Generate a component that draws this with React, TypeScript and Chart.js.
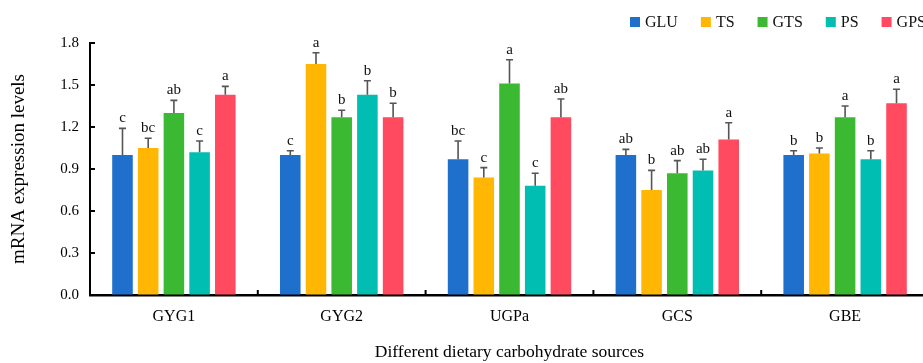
import React, { useEffect, useRef } from "react";
import { Chart, registerables } from "chart.js";

Chart.register(...registerables);

const categories = ["GYG1", "GYG2", "UGPa", "GCS", "GBE"];
const seriesNames = ["GLU", "TS", "GTS", "PS", "GPS"];
const seriesColors = ["#1f6fcd", "#ffb703", "#3cb933", "#00bfb2", "#ff4a5f"];

const gluValues = [1.0, 1.0, 0.97, 1.0, 1.0];
const tsValues = [1.05, 1.65, 0.84, 0.75, 1.01];
const gtsValues = [1.3, 1.27, 1.51, 0.87, 1.27];
const psValues = [1.02, 1.43, 0.78, 0.89, 0.97];
const gpsValues = [1.43, 1.27, 1.27, 1.11, 1.37];

const gluErrors = [0.19, 0.03, 0.13, 0.04, 0.03];
const tsErrors = [0.07, 0.08, 0.07, 0.14, 0.04];
const gtsErrors = [0.09, 0.05, 0.17, 0.09, 0.08];
const psErrors = [0.08, 0.1, 0.09, 0.08, 0.06];
const gpsErrors = [0.06, 0.1, 0.13, 0.12, 0.1];

const gluLetters = ["c", "c", "bc", "ab", "b"];
const tsLetters = ["bc", "a", "c", "b", "b"];
const gtsLetters = ["ab", "b", "a", "ab", "a"];
const psLetters = ["c", "b", "c", "ab", "b"];
const gpsLetters = ["a", "b", "ab", "a", "a"];

const yTicks = [0, 0.3, 0.6, 0.9, 1.2, 1.5, 1.8];

const yTitle = "mRNA expression levels";
const xTitle = "Different dietary carbohydrate sources";

const FONT = "'Times New Roman', 'Liberation Serif', serif";

const errorBarPlugin = {
  id: "errorBars",
  afterDatasetsDraw(chart: any) {
    const ctx = chart.ctx;
    const y = chart.scales.y;
    chart.data.datasets.forEach((ds: any, di: number) => {
      const meta = chart.getDatasetMeta(di);
      meta.data.forEach((bar: any, i: number) => {
        const v = ds.data[i];
        const e = ds.errors[i];
        const top = y.getPixelForValue(v + e);
        ctx.save();
        ctx.strokeStyle = "#555555";
        ctx.lineWidth = 1.6;
        ctx.beginPath();
        ctx.moveTo(bar.x, bar.y);
        ctx.lineTo(bar.x, top);
        ctx.moveTo(bar.x - 3.5, top);
        ctx.lineTo(bar.x + 3.5, top);
        ctx.stroke();
        ctx.fillStyle = "#111111";
        ctx.font = `15px ${FONT}`;
        ctx.textAlign = "center";
        ctx.textBaseline = "alphabetic";
        ctx.fillText(ds.letters[i], bar.x, top - 6);
        ctx.restore();
      });
    });
  },
};

const axisTicksPlugin = {
  id: "axisTicks",
  afterDraw(chart: any) {
    const ctx = chart.ctx;
    const { left, bottom } = chart.chartArea;
    const x = chart.scales.x;
    const y = chart.scales.y;
    ctx.save();
    ctx.strokeStyle = "#000000";
    ctx.lineWidth = 2;
    ctx.beginPath();
    y.ticks.forEach((t: any) => {
      const py = y.getPixelForValue(t.value);
      ctx.moveTo(left, py);
      ctx.lineTo(left + 5, py);
    });
    const n = categories.length;
    const step = x.getPixelForValue(1) - x.getPixelForValue(0);
    for (let i = 0; i < n; i++) {
      const px = x.getPixelForValue(i) + step / 2;
      ctx.moveTo(px, bottom);
      ctx.lineTo(px, bottom - 5);
    }
    ctx.stroke();
    ctx.restore();
  },
};

const legendPlugin = {
  id: "customLegend",
  afterDraw(chart: any) {
    const ctx = chart.ctx;
    ctx.save();
    ctx.font = `16px ${FONT}`;
    ctx.textBaseline = "middle";
    ctx.textAlign = "left";
    let cx = 630;
    const cy = 22;
    chart.data.datasets.forEach((ds: any) => {
      ctx.fillStyle = ds.backgroundColor;
      ctx.fillRect(cx, cy - 5, 10, 10);
      ctx.fillStyle = "#111111";
      ctx.fillText(ds.label, cx + 15, cy + 1);
      cx += 15 + ctx.measureText(ds.label).width + 23;
    });
    ctx.restore();
  },
};

export default function App() {
  const canvasRef = useRef<HTMLCanvasElement | null>(null);

  useEffect(() => {
    document.body.style.margin = "0";
    const canvas = canvasRef.current;
    if (!canvas) return;
    const valueSets = [gluValues, tsValues, gtsValues, psValues, gpsValues];
    const errorSets = [gluErrors, tsErrors, gtsErrors, psErrors, gpsErrors];
    const letterSets = [gluLetters, tsLetters, gtsLetters, psLetters, gpsLetters];
    const datasets: any[] = seriesNames.map((name, i) => ({
      label: name,
      data: valueSets[i],
      errors: errorSets[i],
      letters: letterSets[i],
      backgroundColor: seriesColors[i],
      borderWidth: 0,
      categoryPercentage: 0.766,
      barPercentage: 0.8,
    }));

    const chart = new Chart(canvas, {
      type: "bar",
      data: { labels: categories, datasets },
      plugins: [errorBarPlugin, axisTicksPlugin, legendPlugin],
      options: {
        animation: false,
        responsive: false,
        devicePixelRatio: 1,
        layout: { padding: { left: 0, top: 43, right: 6, bottom: 0 } },
        plugins: {
          legend: { display: false },
          tooltip: { enabled: false },
        },
        scales: {
          x: {
            type: "category",
            grid: { display: true, drawOnChartArea: false, drawTicks: false },
            border: { display: true, color: "#000000", width: 2.5 },
            ticks: {
              color: "#000000",
              font: { family: FONT, size: 16 },
              padding: 12,
              maxRotation: 0,
            },
            title: {
              display: true,
              text: xTitle,
              color: "#000000",
              font: { family: FONT, size: 17.5 },
              padding: { top: 0, bottom: 0 },
            },
            afterFit: (s: any) => {
              s.height = 68;
            },
          },
          y: {
            min: 0,
            max: 1.8,
            grid: { display: true, drawOnChartArea: false, drawTicks: false },
            border: { display: true, color: "#000000", width: 2 },
            afterBuildTicks: (s: any) => {
              s.ticks = yTicks.map((v) => ({ value: v }));
            },
            ticks: {
              color: "#000000",
              font: { family: FONT, size: 15 },
              padding: 11,
              callback: (v: any) => Number(v).toFixed(1),
            },
            title: {
              display: true,
              text: yTitle,
              color: "#000000",
              font: { family: FONT, size: 19 },
              padding: { top: 8, bottom: 0 },
            },
            afterFit: (s: any) => {
              s.width = 90;
            },
          },
        },
      } as any,
    });
    return () => chart.destroy();
  }, []);

  return (
    <div style={{ width: 923, height: 363, overflow: "hidden", background: "#ffffff" }}>
      <canvas ref={canvasRef} width={935} height={363} style={{ display: "block" }} />
    </div>
  );
}
